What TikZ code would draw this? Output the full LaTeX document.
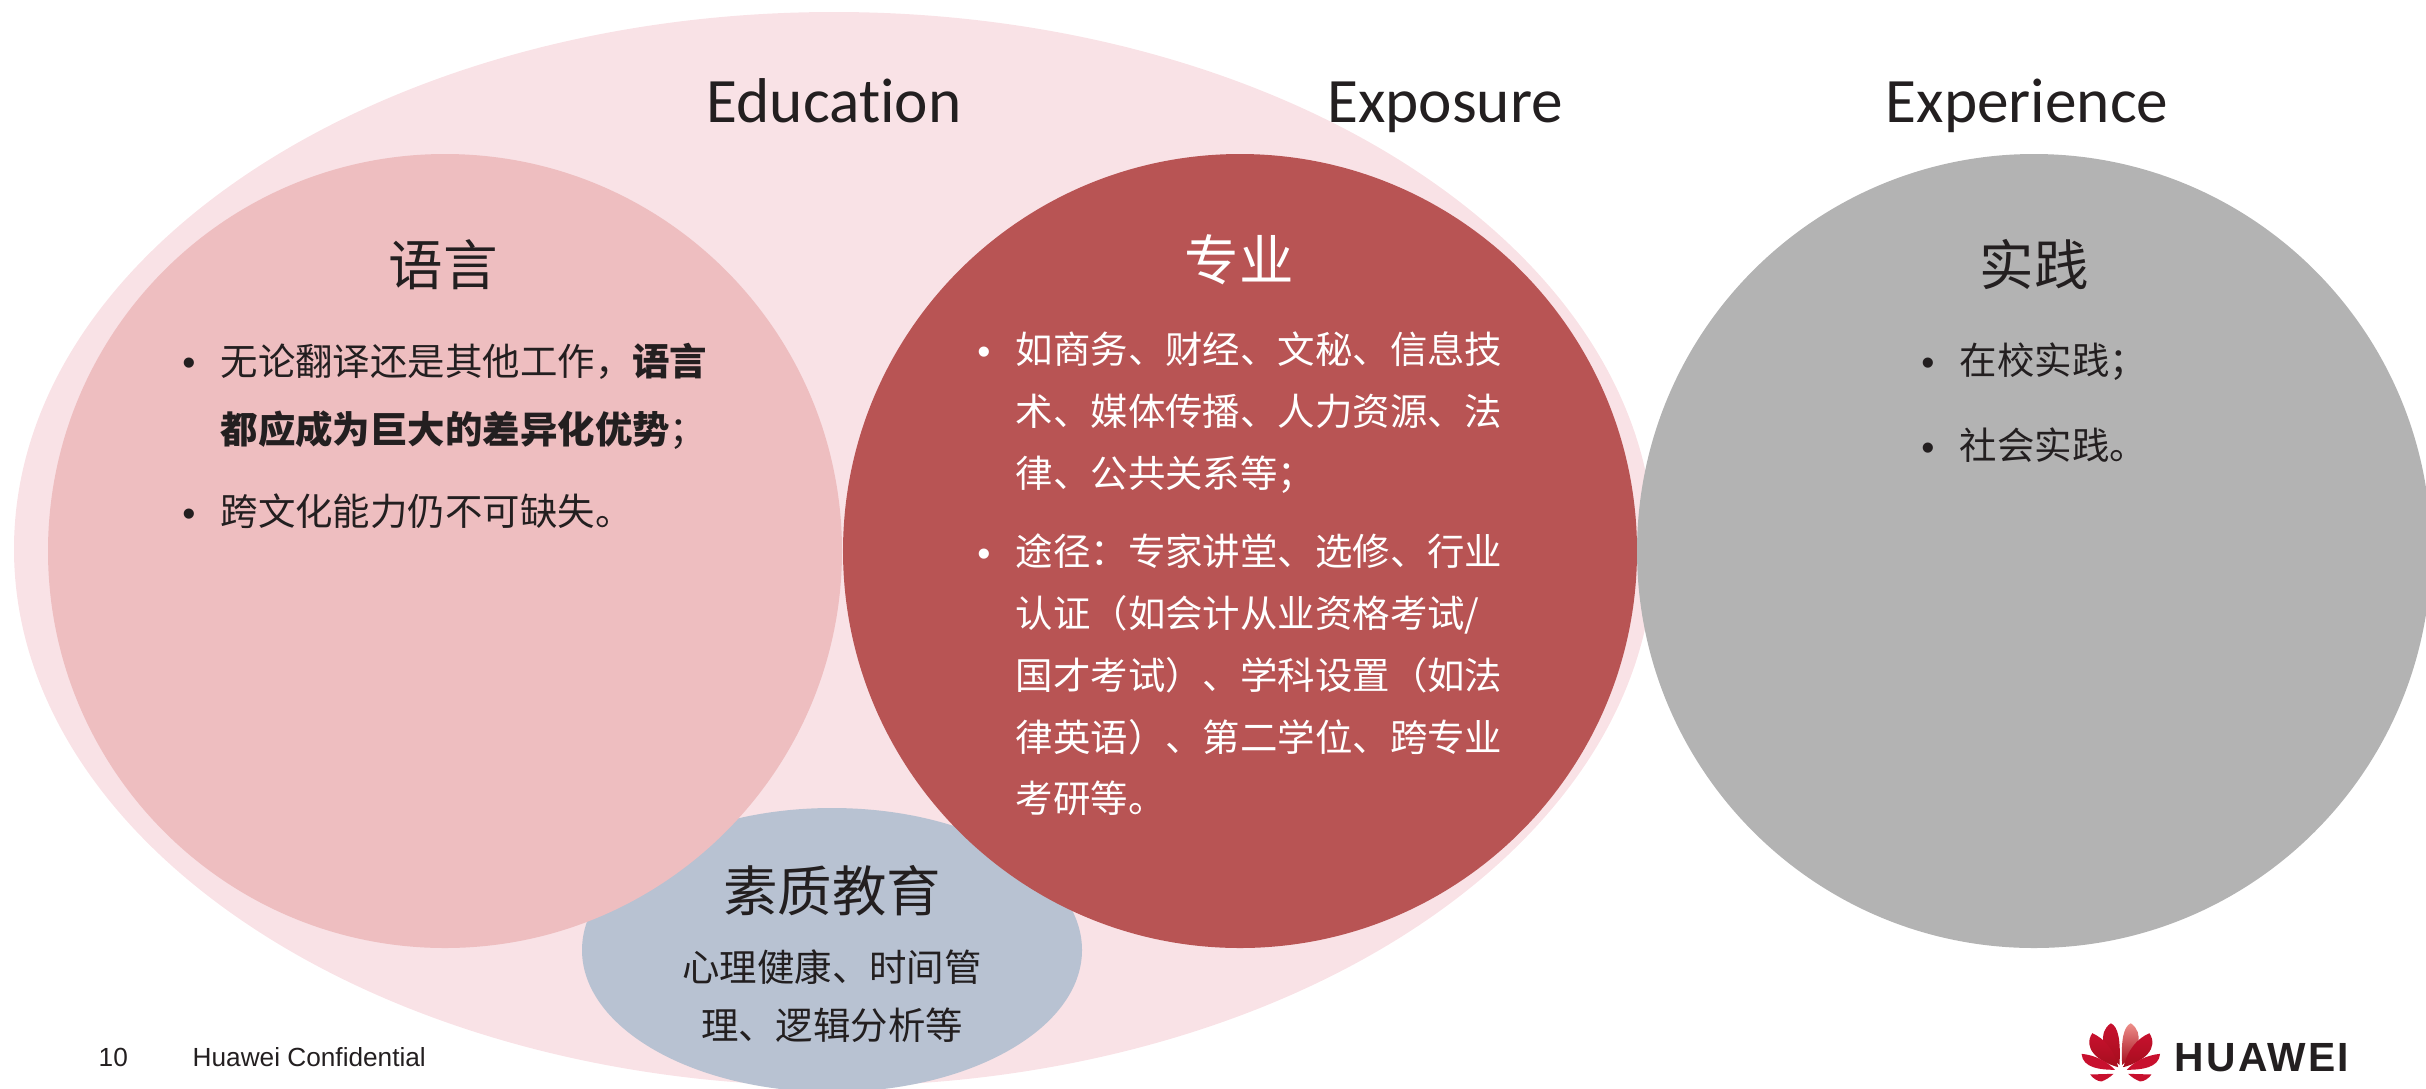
\documentclass[tikz,border=0pt]{standalone}
\usepackage{fontspec}
\setmainfont{Noto Sans CJK SC}
\newfontfamily\latinfont[Ligatures=NoCommon]{Carlito}
\newfontfamily\footfont{Liberation Sans}
\newfontfamily\brandfont[LetterSpace=5.5]{Liberation Sans}
\definecolor{outerpink}{HTML}{F9E2E6}
\definecolor{langpink}{HTML}{EEBEC0}
\definecolor{majorred}{HTML}{B85454}
\definecolor{practgray}{HTML}{B3B3B3}
\definecolor{qualblue}{HTML}{B8C2D2}
\definecolor{inkblack}{HTML}{231F20}
\definecolor{petalred}{HTML}{C8102E}
\definecolor{petaldark}{HTML}{A50F1E}
\definecolor{petalpale}{HTML}{EE8F8A}
\tikzset{
    headword/.style={font=\latinfont\fontsize{18}{20}\selectfont,text=inkblack,inner sep=0pt,anchor=base},
    areatitle/.style={font=\fontsize{15.5}{18}\selectfont,text=inkblack,inner sep=0pt},
    itemtext/.style={font=\fontsize{10.65}{17.6}\selectfont,text=inkblack,inner sep=0pt,anchor=north west,align=left},
    itemdot/.style={font=\footfont\fontsize{10.65}{12}\selectfont,text=inkblack,inner sep=0pt},
    foottext/.style={font=\footfont\fontsize{7.46}{9}\selectfont,text=inkblack,inner sep=0pt,anchor=west}
}
\begin{document}
\begin{tikzpicture}
    \useasboundingbox (0,0) rectangle (24.26,-10.88);
    \clip (0,0) rectangle (24.26,-10.88);
    \fill[outerpink] (8.34,-5.49) ellipse (8.20 and 5.37);
    \fill[qualblue] (8.32,-9.50) ellipse (2.50 and 1.42);
    \fill[langpink] (4.45,-5.51) circle (3.97);
    \fill[majorred] (12.40,-5.51) circle (3.97);
    \fill[practgray] (20.34,-5.51) circle (3.97);

    \node[headword] (education) at (8.34,-1.22) {Education};
    \node[headword] (exposure) at (14.45,-1.22) {Exposure};
    \node[headword] (experience) at (20.27,-1.22) {Experience};

    \node[areatitle] (langtitle) at (4.43,-2.65) {语言};
    \node[areatitle,text=white] (majortitle) at (12.39,-2.60) {专业};
    \node[areatitle] (practtitle) at (20.34,-2.65) {实践};
    \node[areatitle] (qualtitle) at (8.32,-8.91) {素质教育};

    \node[itemdot] (langdota) at (1.89,-3.67) {•};
    \node[itemtext,font=\fontsize{10.65}{19.4}\selectfont] (langa) at (2.20,-3.42) {无论翻译还是其他工作，\textbf{语言}\\\textbf{都应成为巨大的差异化优势}；};
    \node[itemdot] (langdotb) at (1.89,-5.18) {•};
    \node[itemtext] (langb) at (2.20,-4.93) {跨文化能力仍不可缺失。};

    \node[itemdot,text=white] (majordota) at (9.84,-3.56) {•};
    \node[itemtext,text=white] (majora) at (10.15,-3.31) {如商务、财经、文秘、信息技\\术、媒体传播、人力资源、法\\律、公共关系等；};
    \node[itemdot,text=white] (majordotb) at (9.84,-5.58) {•};
    \node[itemtext,text=white] (majorb) at (10.15,-5.33) {途径：专家讲堂、选修、行业\\认证（如会计从业资格考试/\\国才考试）、学科设置（如法\\律英语）、第二学位、跨专业\\考研等。};

    \node[itemdot] (practdota) at (19.28,-3.67) {•};
    \node[itemtext] (practa) at (19.59,-3.42) {在校实践；};
    \node[itemdot] (practdotb) at (19.28,-4.52) {•};
    \node[itemtext] (practb) at (19.59,-4.27) {社会实践。};

    \node[itemtext,font=\fontsize{10.65}{16.5}\selectfont,anchor=north,align=center] (qualtext) at (8.32,-9.49) {心理健康、时间管\\理、逻辑分析等};

    \node[foottext] (pageno) at (0.98,-10.57) {10};
    \node[foottext] (confidential) at (1.92,-10.57) {Huawei Confidential};

    \foreach \side/\topshade in {1/petalpale,-1/petalred}{
        \begin{scope}[shift={(21.208,-9.80)},x=0.00333cm,y=-0.00333cm,xscale=\side]
            \shade[top color=\topshade,bottom color=petaldark] (4,255) .. controls (55,215) and (72,160) .. (30,130) .. controls (8,140) and (0,180) .. (4,255);
            \shade[top color=petalred,bottom color=petaldark] (8,262) .. controls (70,245) and (115,205) .. (86,160) .. controls (50,175) and (20,210) .. (8,262);
            \fill[petalred] (18,270) .. controls (60,270) and (115,265) .. (118,222) .. controls (80,225) and (40,245) .. (18,270);
            \fill[petalred] (22,282) -- (92,284) .. controls (85,295) and (70,305) .. (58,305) .. controls (45,300) and (32,292) .. (22,282);
        \end{scope}
    }
    \node[font=\brandfont\bfseries\fontsize{11.6}{13}\selectfont,text=inkblack,inner sep=0pt,anchor=west] (brand) at (21.74,-10.575) {HUAWEI};
\end{tikzpicture}
\end{document}
